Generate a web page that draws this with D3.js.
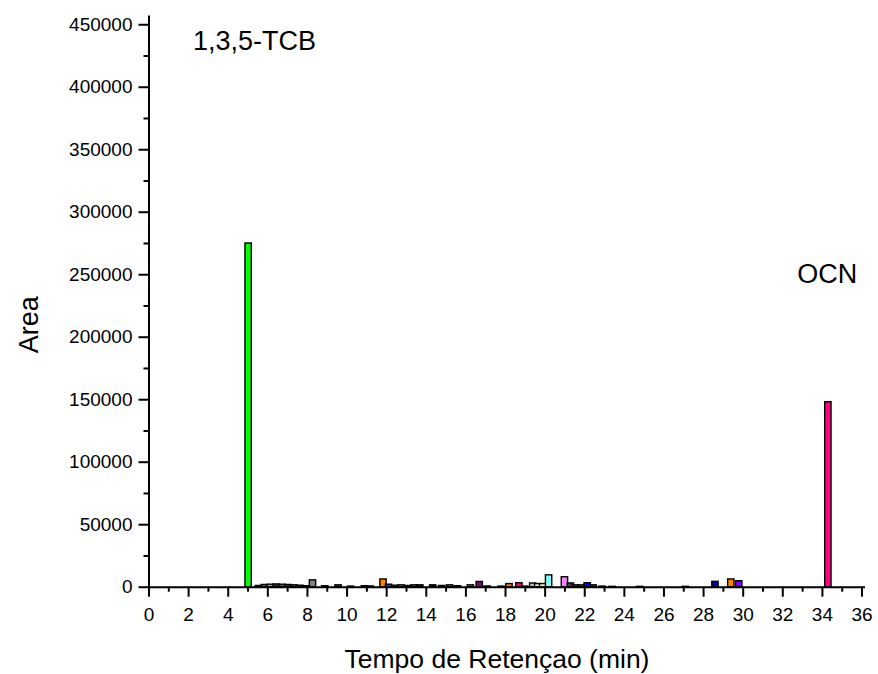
<!DOCTYPE html>
<html>
<head>
<meta charset="utf-8">
<script src="https://cdn.jsdelivr.net/npm/d3@7/dist/d3.min.js"></script>
<style>
  html, body { margin: 0; padding: 0; background: #fff; }
  svg { display: block; font-family: "Liberation Sans", Arial, sans-serif; }
</style>
</head>
<body>
<svg id="chart" width="878" height="674"></svg>
<script>
// Retention times (min) of the detected peaks
const retentionTimes = [
  5.03, 5.55, 5.85, 6.15, 6.45, 6.75, 7.05, 7.35, 7.65, 7.95,
  8.28, 8.9, 9.57, 10.2, 10.9, 11.2, 11.84, 12.12, 12.45, 12.75,
  13.1, 13.4, 13.7, 14.35, 14.8, 15.2, 15.6, 16.25, 16.7, 17.1,
  17.8, 18.2, 18.7, 19.0, 19.4, 19.65, 19.9, 20.2, 21.0, 21.3,
  21.55, 21.85, 22.15, 22.45, 22.9, 23.4, 24.8, 27.1, 28.6, 29.4,
  29.8, 34.3
];
// Peak areas
const peakAreas = [
  275000, 1000, 1800, 2000, 2200, 2000, 1800, 1500, 1200, 800,
  5500, 800, 1500, 500, 800, 600, 6200, 2000, 1200, 1500,
  1000, 1500, 1500, 1500, 1000, 1500, 800, 1500, 4200, 600,
  500, 2500, 3200, 500, 3000, 2500, 2500, 9500, 8000, 3000,
  1500, 1500, 3200, 1500, 500, 300, 300, 300, 4300, 6200,
  4800, 148000
];
// Fill colour of each peak bar
const peakColors = [
  "#00FF00", "#0000FF", "#FF00FF", "#C0C000", "#800080", "#FF0080", "#800000", "#8000FF", "#C000C0", "#804000",
  "#808080", "#008080", "#008000", "#0000A0", "#000000", "#FF0000", "#FF8000", "#8000FF", "#FF00FF", "#808080",
  "#008080", "#FF0080", "#400040", "#000000", "#800000", "#00C000", "#FF00FF", "#808000", "#800080", "#00C0C0",
  "#0000A0", "#FF8000", "#FF0080", "#404040", "#C0C0C0", "#C0FFC0", "#FFFF80", "#80FFFF", "#FF80FF", "#404040",
  "#C00000", "#008000", "#0000FF", "#008080", "#800000", "#400000", "#8000FF", "#004000", "#0000A0", "#FF8000",
  "#8000FF", "#FF0080"
];
// Axis ticks
const xMajorTicks = d3.range(0, 37, 2);
const xMinorTicks = d3.range(1, 36, 2);
const yMajorTicks = d3.range(0, 450001, 50000);
const yMinorTicks = d3.range(25000, 450000, 50000);
// Peak annotations
const annotations = [
  { text: "1,3,5-TCB", x: 2.25, y: 429000 },
  { text: "OCN", x: 32.75, y: 243000 }
];

const svg = d3.select("#chart");
const x0 = 148.5, x1 = 864.5, yBottom = 586.7, yTop = 15;

const x = d3.scaleLinear().domain([0, 36.15]).range([x0, x1]);
const y = d3.scaleLinear().domain([0, 457400]).range([yBottom, yTop]);
const barWidth = x(0.32) - x(0);

// Bars
svg.append("g")
  .selectAll("rect")
  .data(retentionTimes.map((t, i) => ({ t, a: peakAreas[i], c: peakColors[i] })))
  .join("rect")
  .attr("x", d => x(d.t) - barWidth / 2)
  .attr("y", d => y(d.a))
  .attr("width", barWidth)
  .attr("height", d => yBottom - y(d.a))
  .attr("fill", d => d.c)
  .attr("stroke", "#000")
  .attr("stroke-width", 1.4);

// X axis (major + minor ticks)
const gx = svg.append("g").attr("transform", `translate(0,${yBottom})`);
gx.call(d3.axisBottom(x).tickValues(xMajorTicks).tickSize(10).tickSizeOuter(0).tickPadding(7).tickFormat(d3.format("d")));
const gxMinor = svg.append("g").attr("transform", `translate(0,${yBottom})`);
gxMinor.call(d3.axisBottom(x).tickValues(xMinorTicks).tickSize(5).tickSizeOuter(0).tickFormat(""));
gxMinor.select(".domain").remove();

// Y axis (major + minor ticks)
const gy = svg.append("g").attr("transform", `translate(${x0},0)`);
gy.call(d3.axisLeft(y).tickValues(yMajorTicks).tickSize(10).tickSizeOuter(0).tickPadding(6).tickFormat(d3.format("d")));
const gyMinor = svg.append("g").attr("transform", `translate(${x0},0)`);
gyMinor.call(d3.axisLeft(y).tickValues(yMinorTicks).tickSize(5).tickSizeOuter(0).tickFormat(""));
gyMinor.select(".domain").remove();

svg.selectAll(".domain, .tick line").attr("stroke", "#000").attr("stroke-width", 2);
svg.selectAll(".tick text").attr("fill", "#000").style("font-size", "19px");
gx.selectAll(".tick text").attr("dy", "0.9em");

// Axis titles
svg.append("text")
  .attr("x", 497)
  .attr("y", 668)
  .attr("text-anchor", "middle")
  .style("font-size", "26.5px")
  .text("Tempo de Retençao (min)");

svg.append("text")
  .attr("transform", `translate(38,${(yTop + yBottom) / 2 + 24}) rotate(-90)`)
  .attr("text-anchor", "middle")
  .style("font-size", "27px")
  .text("Area");

// Peak labels
svg.append("g")
  .selectAll("text")
  .data(annotations)
  .join("text")
  .attr("x", d => x(d.x))
  .attr("y", d => y(d.y))
  .style("font-size", "27px")
  .text(d => d.text);
</script>
</body>
</html>
